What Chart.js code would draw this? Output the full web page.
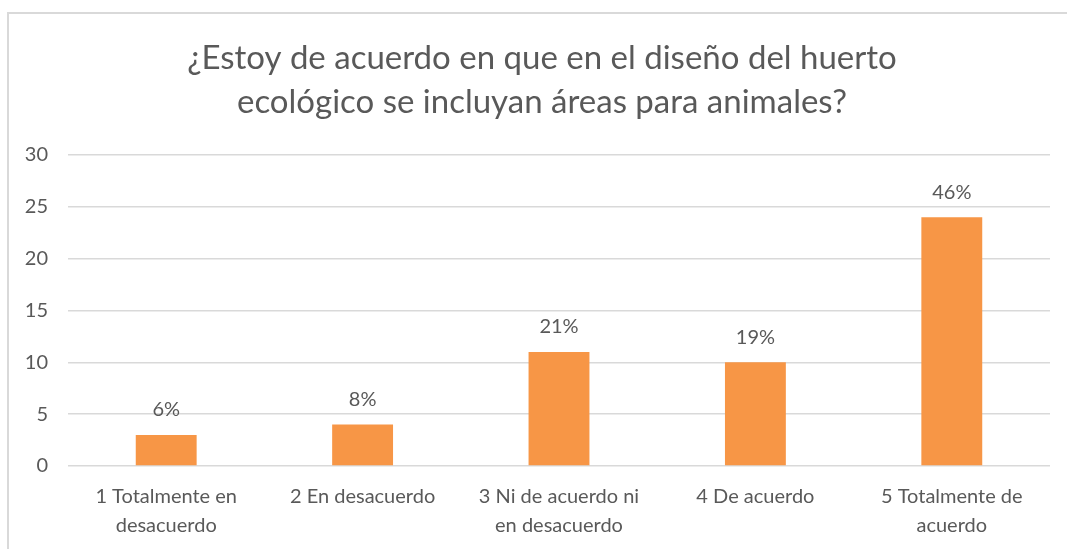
<!DOCTYPE html>
<html>
<head>
<meta charset="utf-8">
<script src="https://cdn.jsdelivr.net/npm/chart.js@4/dist/chart.umd.min.js"></script>
<style>
    html, body { margin: 0; padding: 0; background: #fff; }
    #wrap { position: relative; width: 1067px; height: 549px; overflow: hidden; }
    #frame { position: absolute; left: 7px; top: 12px; width: 1100px; height: 600px;
             border: 2px solid #d9d9d9; box-sizing: border-box; }
    #chartCanvas { position: absolute; left: 0; top: 0; }
</style>
</head>
<body>
<div id="wrap">
    <div id="frame"></div>
    <canvas id="chartCanvas" width="1067" height="549"></canvas>
</div>
<script>
    var titleLines = ['¿Estoy de acuerdo en que en el diseño del huerto', 'ecológico se incluyan áreas para animales?'];
    var categories = [
        ['1 Totalmente en', 'desacuerdo'],
        '2 En desacuerdo',
        ['3 Ni de acuerdo ni', 'en desacuerdo'],
        '4 De acuerdo',
        ['5 Totalmente de', 'acuerdo']
    ];
    var counts = [3, 4, 11, 10, 24];
    var percentLabels = ['6%', '8%', '21%', '19%', '46%'];
    var yTicks = [0, 5, 10, 15, 20, 25, 30];

    var textColor = '#595959';
    var fontFamily = 'Lato, "Open Sans", sans-serif';

    // title is drawn by hand so it can sit a bit right of the plot centre
    var chartTitle = {
        id: 'chartTitle',
        afterDraw: function (chart) {
            var ctx = chart.ctx;
            ctx.save();
            ctx.fillStyle = textColor;
            ctx.font = '33px ' + fontFamily;
            ctx.textAlign = 'center';
            ctx.textBaseline = 'middle';
            titleLines.forEach(function (line, i) {
                ctx.fillText(line, 542, 58 + i * 44);
            });
            ctx.restore();
        }
    };

    // draws the percentage above each bar
    var barLabels = {
        id: 'barLabels',
        afterDatasetsDraw: function (chart) {
            var ctx = chart.ctx;
            var meta = chart.getDatasetMeta(0);
            ctx.save();
            ctx.fillStyle = textColor;
            ctx.font = '20px ' + fontFamily;
            ctx.textAlign = 'center';
            ctx.textBaseline = 'middle';
            meta.data.forEach(function (bar, i) {
                ctx.fillText(percentLabels[i], bar.x, bar.y - 25);
            });
            ctx.restore();
        }
    };

    var ctx = document.getElementById('chartCanvas');
    var chart = new Chart(ctx, {
        type: 'bar',
        data: {
            labels: categories,
            datasets: [{
                data: counts,
                backgroundColor: '#f79646',
                borderWidth: 0,
                barPercentage: 0.62,
                categoryPercentage: 0.5
            }]
        },
        options: {
            responsive: false,
            animation: false,
            layout: { padding: { left: 0, right: 17, top: 155, bottom: 0 } },
            plugins: {
                legend: { display: false },
                tooltip: { enabled: false },
                title: { display: false }
            },
            scales: {
                x: {
                    grid: { display: false, drawTicks: false },
                    border: { display: false },
                    ticks: {
                        color: textColor,
                        font: { family: fontFamily, size: 20, lineHeight: 1.45 },
                        padding: 16,
                        maxRotation: 0,
                        autoSkip: false
                    },
                    afterFit: function (scale) { scale.height = 83; }
                },
                y: {
                    min: 0,
                    max: 30,
                    afterBuildTicks: function (scale) {
                        scale.ticks = yTicks.map(function (v) { return { value: v }; });
                    },
                    grid: { color: '#d9d9d9', lineWidth: 1.5, drawTicks: false },
                    border: { display: false },
                    ticks: {
                        color: textColor,
                        font: { family: fontFamily, size: 20 },
                        padding: 20
                    },
                    afterFit: function (scale) { scale.width = 68; }
                }
            }
        },
        plugins: [barLabels, chartTitle]
    });
</script>
</body>
</html>
